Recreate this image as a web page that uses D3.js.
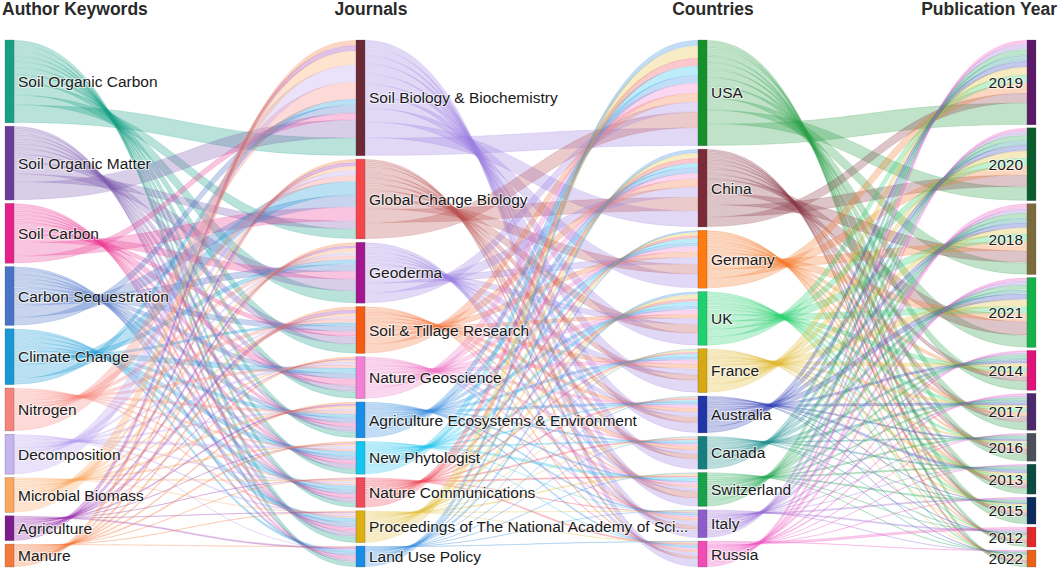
<!DOCTYPE html>
<html>
<head>
<meta charset="utf-8">
<script src="https://cdn.jsdelivr.net/npm/d3@7"></script>
<style>
  body { margin: 0; background: #fff; }
  svg { display: block; }
  text { font-family: Arial, "Liberation Sans", sans-serif; }
</style>
</head>
<body>
<svg id="chart" width="1059" height="571"></svg>
<script>
// ---- data ----
const columnTitles = ["Author Keywords", "Journals", "Countries", "Publication Year"];

const keywords = ["Soil Organic Carbon", "Soil Organic Matter", "Soil Carbon", "Carbon Sequestration",
  "Climate Change", "Nitrogen", "Decomposition", "Microbial Biomass", "Agriculture", "Manure"];
const journals = ["Soil Biology & Biochemistry", "Global Change Biology", "Geoderma", "Soil & Tillage Research",
  "Nature Geoscience", "Agriculture Ecosystems & Environment", "New Phytologist", "Nature Communications",
  "Proceedings of The National Academy of Sci...", "Land Use Policy"];
const countries = ["USA", "China", "Germany", "UK", "France", "Australia", "Canada", "Switzerland", "Italy", "Russia"];
const years = ["2019", "2020", "2018", "2021", "2014", "2017", "2016", "2013", "2015", "2012", "2022"];

// rows = keywords, columns = journals
const keywordJournal = [
  [18, 10, 12, 9, 7, 6, 5, 5, 6, 5],
  [18, 8, 12, 8, 6, 5, 5, 4, 5, 3],
  [7, 14, 8, 5, 7, 4, 4, 4, 4, 3],
  [8, 12, 7, 6, 5, 5, 4, 4, 5, 3],
  [6, 14, 5, 3, 6, 4, 5, 5, 5, 3],
  [17, 6, 4, 4, 3, 3, 2, 2, 2, 0],
  [17, 5, 3, 2, 3, 2, 3, 2, 2, 1],
  [14, 4, 4, 3, 2, 3, 2, 2, 1, 0],
  [6, 4, 3, 4, 1, 2, 1, 1, 1, 2],
  [5, 3, 3, 3, 2, 2, 2, 1, 1, 1]
];
// rows = journals, columns = countries
const journalCountry = [
  [18, 16, 14, 12, 12, 10, 10, 8, 8, 8],
  [16, 14, 10, 9, 6, 6, 5, 7, 4, 3],
  [10, 10, 7, 6, 6, 5, 4, 4, 5, 4],
  [9, 8, 6, 4, 5, 4, 4, 2, 3, 2],
  [10, 6, 5, 5, 4, 3, 2, 3, 2, 2],
  [8, 6, 4, 4, 3, 3, 2, 2, 2, 2],
  [9, 4, 4, 4, 3, 2, 2, 3, 1, 1],
  [8, 5, 3, 3, 2, 2, 2, 2, 1, 2],
  [12, 5, 3, 4, 2, 1, 1, 2, 1, 1],
  [6, 4, 2, 3, 1, 1, 1, 1, 1, 1]
];
// rows = countries, columns = years
const countryYear = [
  [22, 14, 12, 12, 9, 8, 7, 6, 8, 4, 4],
  [10, 12, 12, 14, 5, 6, 5, 4, 4, 3, 3],
  [10, 9, 9, 8, 4, 4, 3, 4, 3, 2, 2],
  [8, 8, 8, 7, 5, 4, 3, 4, 3, 2, 2],
  [8, 7, 6, 7, 4, 3, 2, 3, 2, 1, 1],
  [6, 6, 5, 6, 3, 3, 2, 3, 1, 1, 1],
  [6, 5, 5, 4, 3, 3, 2, 2, 1, 1, 1],
  [6, 5, 5, 5, 3, 2, 2, 2, 2, 1, 1],
  [5, 4, 4, 4, 2, 2, 1, 1, 2, 2, 1],
  [4, 3, 5, 3, 2, 2, 1, 1, 1, 3, 1]
];

// ---- colours ----
const nodeColors = [
  ["#16a085", "#6a3d9a", "#e7218a", "#4a72c8", "#1a98d5", "#f7847c", "#c6b5f2", "#fba75f", "#7a1c8c", "#f47a3c"],
  ["#6b2a35", "#f5474b", "#a3168f", "#f55b14", "#f47fd6", "#1a8de6", "#13c6f2", "#ef4a5c", "#dcb011", "#1a8de6"],
  ["#15912c", "#7b2b35", "#ff7b0f", "#1fd06e", "#d6a912", "#2035a8", "#157f7f", "#17a24b", "#8c5ccb", "#f24bb5"],
  ["#5b1a68", "#0b5b2d", "#7b6a3c", "#16b34a", "#de1478", "#4b2a6b", "#4a4f59", "#0c4b42", "#0c2c5c", "#e1282c", "#e8621a"]
];
const linkColors = [
  ["#16a085", "#7e5cb0", "#ec3d96", "#4a72c8", "#1a9ad8", "#f7847c", "#b5a0ee", "#fba75f", "#9a36b0", "#f47a3c"],
  ["#9a7ee2", "#b8514f", "#9a80e0", "#f6763e", "#f07cc8", "#3d8fe0", "#25c5f0", "#f04c5c", "#e5c040", "#3d8fe0"],
  ["#2ca048", "#8b3a4a", "#f47a2a", "#2bd070", "#e0b830", "#3a4ab8", "#1f8f8f", "#2aaa5a", "#9c70d8", "#f055c0"]
];

// ---- layout ----
const svg = d3.select("#chart");
const yTop = 40, yBottom = 567, minPad = 3, nodeWidth = 9, linkGap = 0.4;
const x = d3.scaleOrdinal().domain([0, 1, 2, 3]).range([5, 356, 698, 1027]);

const columns = [keywords, journals, countries, years];
const flows = [keywordJournal, journalCountry, countryYear];

const nodes = columns.map((names, c) => names.map((name, i) => ({
  name, col: c, index: i, inLinks: [], outLinks: []
})));

const links = [];
flows.forEach((matrix, c) => {
  matrix.forEach((row, i) => {
    row.forEach((v, j) => {
      if (v <= 0) return;
      const l = { source: nodes[c][i], target: nodes[c + 1][j], value: v };
      links.push(l);
      l.source.outLinks.push(l);
      l.target.inLinks.push(l);
    });
  });
});

nodes.flat().forEach(n => {
  n.value = Math.max(d3.sum(n.inLinks, l => l.value), d3.sum(n.outLinks, l => l.value));
});

const ky = d3.min(nodes, col => (yBottom - yTop - (col.length - 1) * minPad) / d3.sum(col, n => n.value));

nodes.forEach(col => {
  const total = d3.sum(col, n => n.value);
  const gap = (yBottom - yTop - total * ky) / (col.length - 1);
  const y = d3.scaleLinear().domain([0, total]).range([yTop, yTop + total * ky]);
  let acc = 0;
  col.forEach((n, i) => {
    n.y0 = y(acc) + i * gap;
    acc += n.value;
    n.y1 = y(acc) + i * gap;
  });
});

// stack links on each node (lower partners on top, like the original)
nodes.flat().forEach(n => {
  let sy = n.y0;
  n.outLinks.slice().sort((a, b) => b.target.index - a.target.index).forEach(l => {
    l.sy = sy; sy += l.value * ky;
  });
  let ty = n.y0;
  n.inLinks.slice().sort((a, b) => b.source.index - a.source.index).forEach(l => {
    l.ty = ty; ty += l.value * ky;
  });
});

function ribbon(l) {
  const x0 = x(l.source.col) + nodeWidth, x1 = x(l.target.col);
  const xm = (x0 + x1) / 2;
  const w = l.value * ky - 2 * linkGap;
  const s = l.sy + linkGap, t = l.ty + linkGap;
  const p = d3.path();
  p.moveTo(x0, s);
  p.bezierCurveTo(xm, s, xm, t, x1, t);
  p.lineTo(x1, t + w);
  p.bezierCurveTo(xm, t + w, xm, s + w, x0, s + w);
  p.closePath();
  return p.toString();
}

// links
svg.append("g")
  .selectAll("path")
  .data(links)
  .enter().append("path")
  .attr("d", ribbon)
  .attr("fill", d => linkColors[d.source.col][d.source.index])
  .attr("fill-opacity", 0.3)
  .attr("stroke", d => linkColors[d.source.col][d.source.index])
  .attr("stroke-opacity", 0.3)
  .attr("stroke-width", 0.6);

// nodes
svg.append("g")
  .selectAll("rect")
  .data(nodes.flat())
  .enter().append("rect")
  .attr("x", d => x(d.col))
  .attr("y", d => d.y0)
  .attr("width", nodeWidth)
  .attr("height", d => d.y1 - d.y0)
  .attr("fill", d => nodeColors[d.col][d.index])
  .attr("stroke", "#555")
  .attr("stroke-opacity", 0.5)
  .attr("stroke-width", 0.5);

// node labels
svg.append("g")
  .selectAll("text")
  .data(nodes.flat())
  .enter().append("text")
  .attr("x", d => d.col < 3 ? x(d.col) + nodeWidth + 4 : x(d.col) - 4)
  .attr("y", d => (d.y0 + d.y1) / 2)
  .attr("dy", "0.36em")
  .attr("text-anchor", d => d.col < 3 ? "start" : "end")
  .attr("font-size", "15.5px")
  .attr("fill", "#1a1a1a")
  .attr("stroke", "#fff")
  .attr("stroke-width", 2)
  .attr("stroke-opacity", 0.6)
  .attr("paint-order", "stroke")
  .text(d => d.name);

// column titles
const titleX = [2, 371, 713, 1057];
const titleAnchor = ["start", "middle", "middle", "end"];
svg.append("g")
  .selectAll("text")
  .data(columnTitles)
  .enter().append("text")
  .attr("x", (d, i) => titleX[i])
  .attr("y", 15)
  .attr("text-anchor", (d, i) => titleAnchor[i])
  .attr("font-size", "17.5px")
  .attr("font-weight", "bold")
  .attr("fill", "#2a2a2a")
  .text(d => d);
</script>
</body>
</html>
